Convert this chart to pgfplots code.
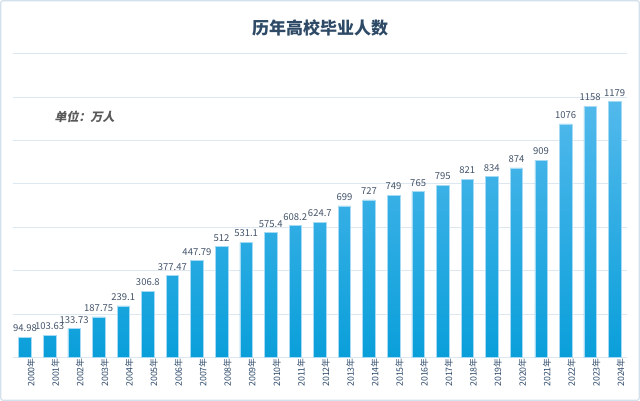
\documentclass[border=0pt]{standalone}
\usepackage{pgfplots}
\pgfplotsset{compat=1.18}
\usepackage{fontspec}
\setmainfont{Noto Sans CJK SC}
\newfontfamily\unitfont[FakeSlant=0.2]{Noto Sans CJK SC}
\definecolor{gridc}{HTML}{DCE7F0}
\definecolor{framec}{HTML}{D3E1EC}
\definecolor{titlec}{HTML}{2E4A66}
\definecolor{labc}{HTML}{44546A}
\definecolor{tickc}{HTML}{2F4B6B}
\definecolor{bartop}{HTML}{52B9EC}
\definecolor{barbot}{HTML}{0A9FDA}
\definecolor{baredge}{HTML}{A5DAF4}
\definecolor{unitc}{HTML}{595959}
\pgfplotstableread{
x y
0 94.98
1 103.63
2 133.73
3 187.75
4 239.1
5 306.8
6 377.47
7 447.79
8 512
9 531.1
10 575.4
11 608.2
12 624.7
13 699
14 727
15 749
16 765
17 795
18 821
19 834
20 874
21 909
22 1076
23 1158
24 1179
}\datatable
\begin{document}
\begin{tikzpicture}[x=1pt,y=1pt]
\useasboundingbox (0,0) rectangle (640,401);
\fill[white] (0,0) rectangle (640,401);
\draw[framec, line width=1.2pt, rounded corners=2pt] (0.8,0.8) rectangle (639.2,400.2);
\begin{axis}[
  at={(12.7pt,43.3pt)}, anchor=south west,
  scale only axis, width=614.3pt, height=304.1pt,
  xmin=-0.5, xmax=24.5, ymin=0, ymax=1400,
  axis line style={draw=none},
  ytick={0,200,...,1400}, yticklabels={},
  ymajorgrids, grid style={gridc, line width=1pt},
  ytick style={draw=none},
  xtick={0,...,24},
  xticklabels={2000年,2001年,2002年,2003年,2004年,2005年,2006年,2007年,2008年,2009年,2010年,2011年,2012年,2013年,2014年,2015年,2016年,2017年,2018年,2019年,2020年,2021年,2022年,2023年,2024年},
  xtick style={draw=none},
  xticklabel style={rotate=90, anchor=east, font=\fontsize{8.8}{9}\selectfont, text=tickc, inner sep=0pt, xshift=-0.5pt},
  xtick pos=bottom,
  major tick length=0pt,
  every x tick label/.append style={yshift=-6pt},
  clip=false,
]
\addplot[ybar, bar width=12.5pt, draw=baredge, line width=0.5pt, top color=bartop, bottom color=barbot,
  nodes near coords, point meta=explicit symbolic,
  every node near coord/.append style={font=\fontsize{9.5}{10}\selectfont, text=labc, anchor=south, yshift=4pt, inner sep=1pt}]
  table[x=x, y=y, meta=y] {\datatable};
\end{axis}
\node[font=\fontsize{17}{20}\selectfont\bfseries, text=titlec] at (320,373) {历年高校毕业人数};
\node[font=\unitfont\fontsize{12}{14}\selectfont\bfseries, text=unitc, anchor=west] at (51,284) {单位：万人};
\end{tikzpicture}
\end{document}
